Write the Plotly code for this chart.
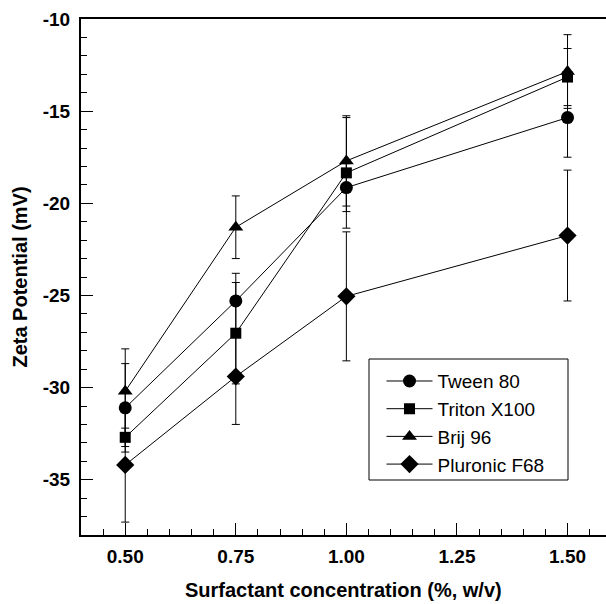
import plotly.graph_objects as go

# ---- data ----
conc = [0.50, 0.75, 1.00, 1.50]

tween80 = [-31.1, -25.3, -19.15, -15.35]
tween80_err = [2.4, 1.5, 1.3, 2.15]

triton = [-32.7, -27.05, -18.35, -13.15]
triton_err = [0.5, 2.75, 3.0, 1.55]

brij96 = [-30.2, -21.3, -17.7, -12.85]
brij96_err = [2.3, 1.7, 2.45, 2.0]

pluronic = [-34.2, -29.4, -25.05, -21.75]
pluronic_err = [3.1, 2.6, 3.5, 3.55]

series_names = ["Tween 80", "Triton X100", "Brij 96", "Pluronic F68"]

x_tickvals = [0.50, 0.75, 1.00, 1.25, 1.50]
x_ticktext = ["0.50", "0.75", "1.00", "1.25", "1.50"]
y_tickvals = [-10, -15, -20, -25, -30, -35]
y_ticktext = ["-10", "-15", "-20", "-25", "-30", "-35"]

x_title = "Surfactant concentration (%, w/v)"
y_title = "Zeta Potential (mV)"

FONT = "Liberation Sans, Arial, sans-serif"

fig = go.Figure()
series = [
    (tween80, tween80_err, "circle", 13),
    (triton, triton_err, "square", 11),
    (brij96, brij96_err, "triangle-up", 13),
    (pluronic, pluronic_err, "diamond", 14),
]
for name, (vals, errs, sym, sz) in zip(series_names, series):
    fig.add_trace(go.Scatter(
        x=conc, y=vals, name=name, mode="lines+markers",
        line=dict(color="black", width=1),
        marker=dict(symbol=sym, size=sz, color="black"),
        error_y=dict(type="data", array=errs, visible=True,
                     color="black", thickness=1, width=4),
    ))

PLOT_H = 604 - 19 - 69
fig.update_layout(
    width=606, height=604,
    margin=dict(l=81, r=0, t=19, b=69, autoexpand=False),
    paper_bgcolor="white", plot_bgcolor="white",
    font=dict(family=FONT, color="black"),
    showlegend=True,
    legend=dict(
        x=0.5724, y=0.335, xanchor="left", yanchor="top",
        bgcolor="rgba(0,0,0,0)", borderwidth=0,
        font=dict(family=FONT, size=19, color="black"),
        tracegroupgap=0, itemwidth=46,
    ),
    shapes=[dict(type="rect", xref="paper", yref="paper",
                 x0=(369 - 81) / 525, x1=(568 - 81) / 525,
                 y0=(535 - 480) / PLOT_H, y1=(535 - 359) / PLOT_H,
                 line=dict(color="black", width=1), layer="above")],
    annotations=[dict(text=x_title, xref="paper", yref="paper",
                      x=(343 - 81) / 525, y=-(590 - 535) / PLOT_H,
                      xanchor="center", yanchor="middle", showarrow=False,
                      font=dict(family=FONT, size=20, weight="bold",
                                color="black"))],
)

fig.update_xaxes(
    range=[0.4, 1.587], automargin=False,
    tickmode="array", tickvals=x_tickvals, ticktext=x_ticktext,
    ticks="inside", ticklen=12, tickwidth=1, tickcolor="black",
    minor=dict(tickmode="linear", tick0=0, dtick=0.05, ticks="inside",
               ticklen=6, tickwidth=1, tickcolor="black"),
    showline=True, linewidth=2, linecolor="black", mirror=True,
    showgrid=False, zeroline=False,
    tickfont=dict(family=FONT, size=19, weight="bold"),
    ticklabelstandoff=3,
)
fig.update_yaxes(
    range=[-38, -10], automargin=False,
    tickmode="array", tickvals=y_tickvals, ticktext=y_ticktext,
    ticks="inside", ticklen=12, tickwidth=1, tickcolor="black",
    minor=dict(tickmode="linear", tick0=0, dtick=1, ticks="inside",
               ticklen=6, tickwidth=1, tickcolor="black"),
    showline=True, linewidth=2, linecolor="black", mirror=False,
    showgrid=False, zeroline=False,
    tickfont=dict(family=FONT, size=19, weight="bold"),
    ticklabelstandoff=5,
    title=dict(text=y_title,
               font=dict(family=FONT, size=20, weight="bold"), standoff=10),
)

fig.write_html("out.html")
